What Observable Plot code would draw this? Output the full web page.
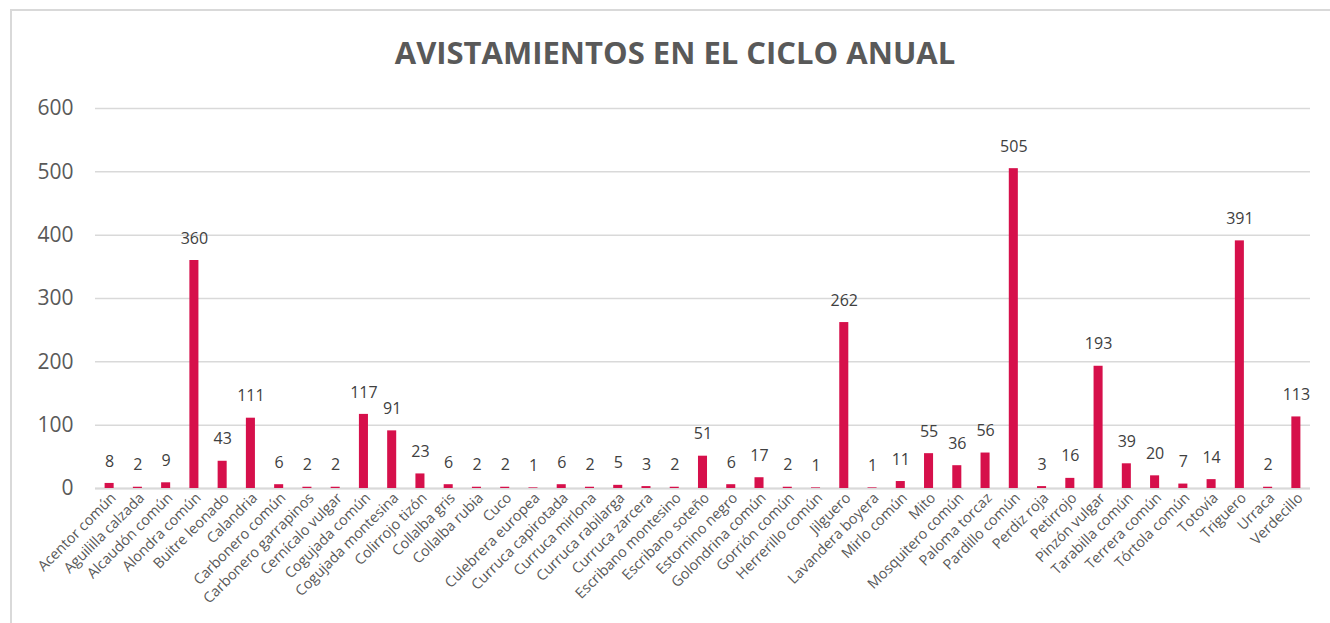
<!DOCTYPE html>
<html>
<head>
<meta charset="utf-8">
<script src="https://cdn.jsdelivr.net/npm/d3@7"></script>
<script src="https://cdn.jsdelivr.net/npm/@observablehq/plot@0.6"></script>
<style>
  html, body { margin: 0; padding: 0; background: #fff; width: 1330px; height: 623px; overflow: hidden; }
  #frame { position: absolute; left: 10px; top: 9px; width: 1340px; height: 640px;
           border-left: 2px solid #d9d9d9; border-top: 2px solid #d9d9d9; pointer-events: none; }
  #title { height: 90px; box-sizing: border-box; padding-top: 33px; padding-left: 20px; text-align: center;
           font-family: "Open Sans", sans-serif; font-weight: 700; font-size: 31px; line-height: 38px; color: #595959; }
  #chart { position: absolute; left: 0; top: 90px; }
</style>
</head>
<body>
<div id="frame"></div>
<div id="title">AVISTAMIENTOS EN EL CICLO ANUAL</div>
<div id="chart"></div>
<script>
const categories = [
  "Acentor común", "Aguililla calzada", "Alcaudón común", "Alondra común", "Buitre leonado",
  "Calandria", "Carbonero común", "Carbonero garrapinos", "Cernícalo vulgar", "Cogujada común",
  "Cogujada montesina", "Colirrojo tizón", "Collalba gris", "Collalba rubia", "Cuco",
  "Culebrera europea", "Curruca capirotada", "Curruca mirlona", "Curruca rabilarga", "Curruca zarcera",
  "Escribano montesino", "Escribano soteño", "Estornino negro", "Golondrina común", "Gorrión común",
  "Herrerillo común", "Jilguero", "Lavandera boyera", "Mirlo común", "Mito",
  "Mosquitero común", "Paloma torcaz", "Pardillo común", "Perdiz roja", "Petirrojo",
  "Pinzón vulgar", "Tarabilla común", "Terrera común", "Tórtola común", "Totovía",
  "Triguero", "Urraca", "Verdecillo"
];
const values = [
  8, 2, 9, 360, 43,
  111, 6, 2, 2, 117,
  91, 23, 6, 2, 2,
  1, 6, 2, 5, 3,
  2, 51, 6, 17, 2,
  1, 262, 1, 11, 55,
  36, 56, 505, 3, 16,
  193, 39, 20, 7, 14,
  391, 2, 113
];
const yTicks = [0, 100, 200, 300, 400, 500, 600];

const data = categories.map((name, i) => ({ name, value: values[i] }));

const chart = Plot.plot({
  width: 1330,
  height: 533,
  marginLeft: 95,
  marginRight: 20,
  marginTop: 18,
  marginBottom: 135,
  style: { fontFamily: "Open Sans, sans-serif", color: "#595959", background: "transparent" },
  x: { domain: categories, paddingInner: 0.68, paddingOuter: 0.34, round: false, label: null },
  y: { domain: [0, 600], label: null },
  marks: [
    Plot.gridY(yTicks, { stroke: "#d9d9d9", strokeOpacity: 1, strokeWidth: 1.5 }),
    Plot.axisY(yTicks, { tickSize: 0, tickPadding: 22, fontSize: 21, fill: "#595959", label: null }),
    Plot.axisX({ tickSize: 0, tickPadding: 7, tickRotate: -45, fontSize: 14.5, fill: "#595959", label: null, dx: 4 }),
    Plot.ruleY([0], { stroke: "#d9d9d9", strokeWidth: 2 }),
    Plot.barY(data, { x: "name", y: "value", fill: "#d6104b" }),
    Plot.text(data, { x: "name", y: "value", text: d => String(d.value), dy: -22, fontSize: 16, fill: "#404040" })
  ]
});
document.getElementById("chart").appendChild(chart);
</script>
</body>
</html>
